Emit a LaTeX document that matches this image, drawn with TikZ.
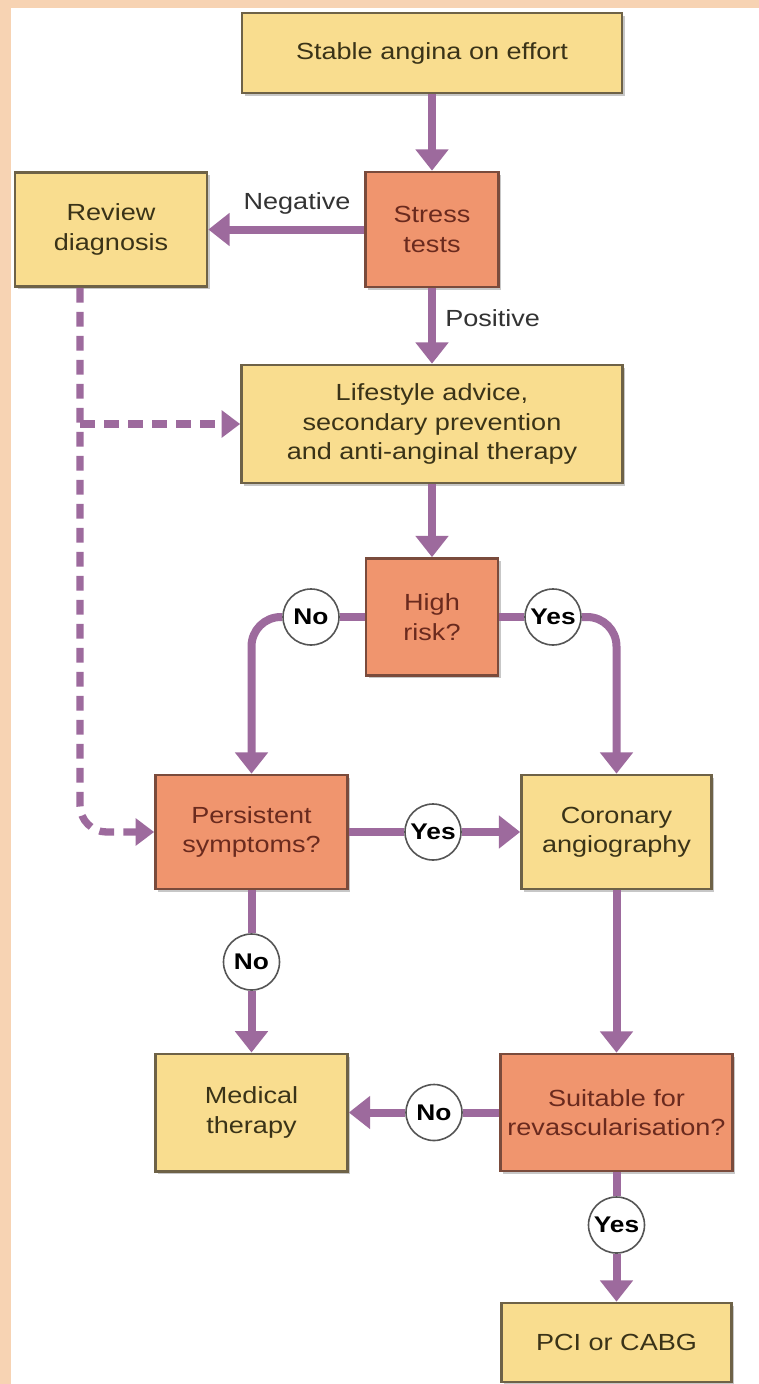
\documentclass[tikz,border=0pt]{standalone}
\usepackage{fontspec}
\setmainfont{Liberation Sans}[FakeStretch=1.16]
\usetikzlibrary{arrows.meta,shadows}
\definecolor{peach}{HTML}{F7D3B3}
\definecolor{yfill}{HTML}{F9DD8F}
\definecolor{ybord}{HTML}{6E6247}
\definecolor{ytext}{HTML}{3A3318}
\definecolor{ofill}{HTML}{F0956E}
\definecolor{obord}{HTML}{7A4B3C}
\definecolor{otext}{HTML}{6A2A1E}
\definecolor{purp}{HTML}{9D6A9D}
\definecolor{cbord}{HTML}{555555}
\tikzset{
  boxbase/.style={draw, line width=2pt, align=center, inner sep=0pt,
    font=\fontsize{17.5}{22}\selectfont,
    drop shadow={shadow xshift=2pt, shadow yshift=-2pt, opacity=0.22, fill=black}},
  ybox/.style={boxbase, draw=ybord, fill=yfill, text=ytext},
  obox/.style={boxbase, draw=obord, fill=ofill, text=otext},
  circ/.style={circle, draw=cbord, fill=white, line width=1.2pt, minimum size=42pt,
    inner sep=0pt, text=black, font=\bfseries\fontsize{17}{20}\selectfont},
  lbl/.style={text=black!80, font=\fontsize{17.5}{22}\selectfont, inner sep=0pt},
  ln/.style={line width=6pt, draw=purp},
  arr/.style={ln, -{Triangle[width=24pt,length=16pt]}},
  dsh/.style={line width=5.5pt, draw=purp, dash pattern=on 11pt off 7pt,
    -{Triangle[width=20pt,length=14pt]}}
}
\begin{document}
\begin{tikzpicture}[x=0.75pt,y=-0.75pt]
\useasboundingbox (0,0) rectangle (759,1384);
\fill[peach] (0,0) rectangle (759,1384);
\fill[white] (11,8) rectangle (759,1384);

% boxes
\node[ybox, minimum width=285pt, minimum height=60pt] (stable) at (432,53) {Stable angina on effort};
\node[obox, minimum width=99.75pt, minimum height=86.25pt] (stress) at (432,229.5) {Stress\\tests};
\node[ybox, minimum width=144pt, minimum height=85.5pt] (review) at (111,229.5) {Review\\diagnosis};
\node[ybox, minimum width=285.75pt, minimum height=88.5pt] (life) at (432,424) {Lifestyle advice,\\secondary prevention\\and anti-anginal therapy};
\node[obox, minimum width=99pt, minimum height=87.75pt] (risk) at (432,617) {High\\risk?};
\node[obox, minimum width=144pt, minimum height=85.5pt] (persist) at (251.5,832) {Persistent\\symptoms?};
\node[ybox, minimum width=142.5pt, minimum height=85.5pt] (coro) at (616.5,832) {Coronary\\angiography};
\node[ybox, minimum width=144pt, minimum height=88pt] (medical) at (251.5,1112.5) {Medical\\therapy};
\node[obox, minimum width=174pt, minimum height=87.75pt] (suit) at (616.5,1112.5) {Suitable for\\revascularisation?};
\node[ybox, minimum width=172.5pt, minimum height=59.25pt] (pci) at (616.5,1342.5) {PCI or CABG};

% labels
\node[lbl] (neg) at (297,203) {Negative};
\node[lbl, anchor=west] (pos) at (445,318) {Positive};

% circles
\node[circ] (c1) at (311,617) {No};
\node[circ] (c2) at (553,617) {Yes};
\node[circ] (c3) at (433,832) {Yes};
\node[circ] (c4) at (251.5,962) {No};
\node[circ] (c5) at (434,1112.5) {No};
\node[circ] (c6) at (616.5,1225) {Yes};

% connectors
\draw[arr] (stable.south) -- (stress.north);
\draw[arr] (stress.west) -- (review.east);
\draw[arr] (stress.south) -- (life.north);
\draw[arr] (life.south) -- (risk.north);
\draw[ln] (risk.west) -- (c1.east);
\draw[arr, rounded corners=22pt] (c1.west) -| (persist.north);
\draw[ln] (risk.east) -- (c2.west);
\draw[arr, rounded corners=22pt] (c2.east) -| (coro.north);
\draw[ln] (persist.east) -- (c3.west);
\draw[arr] (c3.east) -- (coro.west);
\draw[ln] (persist.south) -- (c4.north);
\draw[arr] (c4.south) -- (medical.north);
\draw[arr] (coro.south) -- (suit.north);
\draw[ln] (suit.west) -- (c5.east);
\draw[arr] (c5.west) -- (medical.east);
\draw[ln] (suit.south) -- (c6.north);
\draw[arr] (c6.south) -- (pci.north);
\coordinate (dtop) at ([xshift=-23.25pt]review.south);
\coordinate (dbr) at (dtop |- life.west);
\draw[dsh, rounded corners=20pt] (dtop) |- (persist.west);
\draw[dsh] (dbr) -- (life.west);
\end{tikzpicture}
\end{document}
